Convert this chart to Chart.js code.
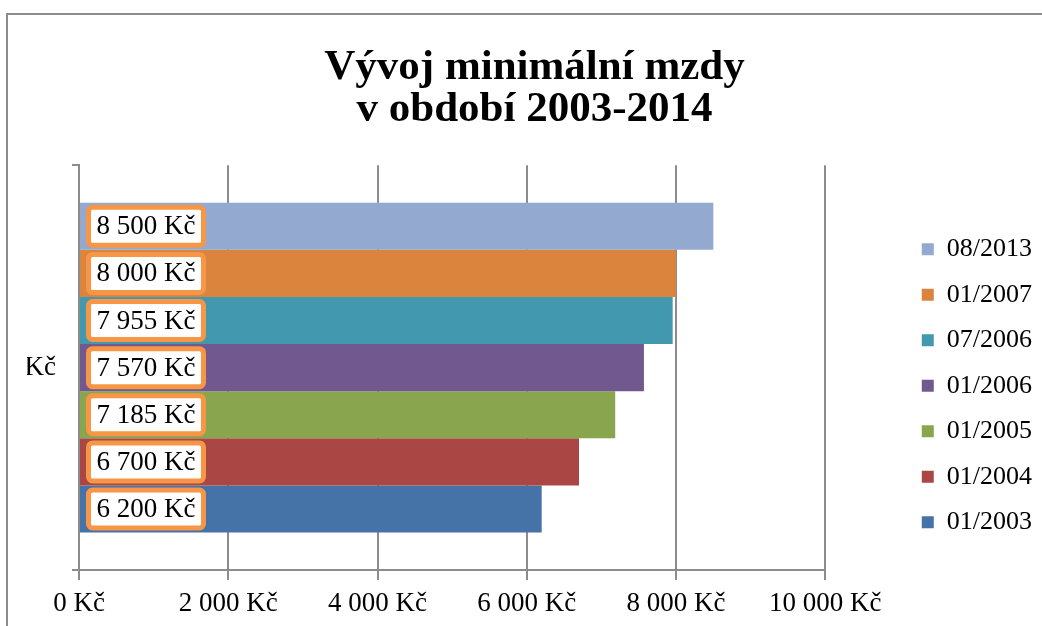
<!DOCTYPE html>
<html>
<head>
<meta charset="utf-8">
<script src="https://cdn.jsdelivr.net/npm/chart.js@4"></script>
<style>
  html, body { margin: 0; padding: 0; background: #fff; overflow: hidden; }
  .frame { position: absolute; left: 6px; top: 13px; width: 1100px; height: 700px;
           border-left: 2px solid #8c8c8c; border-top: 2px solid #8c8c8c; }
  .wrap { position: absolute; left: 0; top: 0; width: 1042px; height: 626px; }
</style>
</head>
<body>
<div class="frame"></div>
<div class="wrap"><canvas id="wageChart"></canvas></div>
<script>
const categories = ["Kč"];
const periods = ["08/2013", "01/2007", "07/2006", "01/2006", "01/2005", "01/2004", "01/2003"];
const wages = [8500, 8000, 7955, 7570, 7185, 6700, 6200];
const colors = ["#93A9CF", "#DB843D", "#4198AF", "#71588F", "#89A54E", "#AA4643", "#4572A7"];
const xTicks = [0, 2000, 4000, 6000, 8000, 10000];

const serif = '"Liberation Serif", "Times New Roman", serif';
const gridColor = "#8c8c8c";

function kc(v) {
  return String(v).replace(/\B(?=(\d{3})+(?!\d))/g, " ") + " Kč";
}

// white boxes with orange frame at the start of every bar
const valueLabels = {
  id: "valueLabels",
  afterDatasetsDraw(chart) {
    const ctx = chart.ctx;
    ctx.save();
    ctx.font = "27px " + serif;
    ctx.textAlign = "center";
    ctx.textBaseline = "middle";
    chart.data.datasets.forEach((ds, i) => {
      chart.getDatasetMeta(i).data.forEach((bar, j) => {
        const text = kc(ds.data[j]);
        const w = ctx.measureText(text).width + 16;
        const h = 38;
        const x = bar.base + 8.5;
        const y = bar.y - h / 2;
        ctx.beginPath();
        ctx.roundRect(x, y, w, h, 4);
        ctx.fillStyle = "#fff";
        ctx.fill();
        ctx.lineWidth = 5;
        ctx.strokeStyle = "#F79646";
        ctx.stroke();
        ctx.fillStyle = "#000";
        ctx.fillText(text, x + w / 2, bar.y + 1);
      });
    });
    ctx.restore();
  },
};

const ctx = document.getElementById("wageChart").getContext("2d");
new Chart(ctx, {
  type: "bar",
  data: {
    labels: categories,
    datasets: periods.map((p, i) => ({
      label: p,
      data: [wages[i]],
      backgroundColor: colors[i],
      borderWidth: 0,
      categoryPercentage: 0.815,
      barPercentage: 1,
    })),
  },
  options: {
    indexAxis: "y",
    responsive: true,
    maintainAspectRatio: false,
    animation: false,
    layout: { padding: { left: 27, right: 0, top: 0, bottom: 7 } },
    plugins: {
      title: {
        display: true,
        text: ["Vývoj minimální mzdy", "v období 2003-2014"],
        color: "#000",
        font: { family: serif, size: 43, weight: "bold", lineHeight: 0.98 },
        padding: { top: 47, bottom: 34 },
      },
      legend: {
        position: "right",
        fullSize: false,
        title: { display: true, text: "", font: { size: 12 }, padding: { top: 0, bottom: 22 } },
        labels: {
          color: "#000",
          font: { family: serif, size: 26 },
          boxWidth: 12,
          boxHeight: 12,
          padding: 19.5,
        },
      },
      tooltip: { enabled: false },
    },
    scales: {
      x: {
        min: 0,
        max: 10000,
        afterBuildTicks: (s) => { s.ticks = xTicks.map((v) => ({ value: v })); },
        grid: { color: gridColor, lineWidth: 2, tickLength: 10 },
        border: { color: gridColor, width: 2 },
        ticks: { color: "#000", font: { family: serif, size: 27 }, padding: 8, callback: (v) => kc(v) },
        afterFit: (s) => { s.height = 49; },
      },
      y: {
        grid: { color: gridColor, lineWidth: 2, tickLength: 7, drawOnChartArea: false, offset: true },
        border: { color: gridColor, width: 2 },
        ticks: { color: "#000", font: { family: serif, size: 27 }, padding: 16 },
        afterFit: (s) => { s.width = 52; },
      },
      // empty axis that keeps the gap between the plot and the legend
      gap: {
        type: "linear",
        position: "right",
        grid: { display: false },
        border: { display: false },
        ticks: { display: false },
        afterFit: (s) => { s.width = 77; },
      },
    },
  },
  plugins: [valueLabels],
});
</script>
</body>
</html>
